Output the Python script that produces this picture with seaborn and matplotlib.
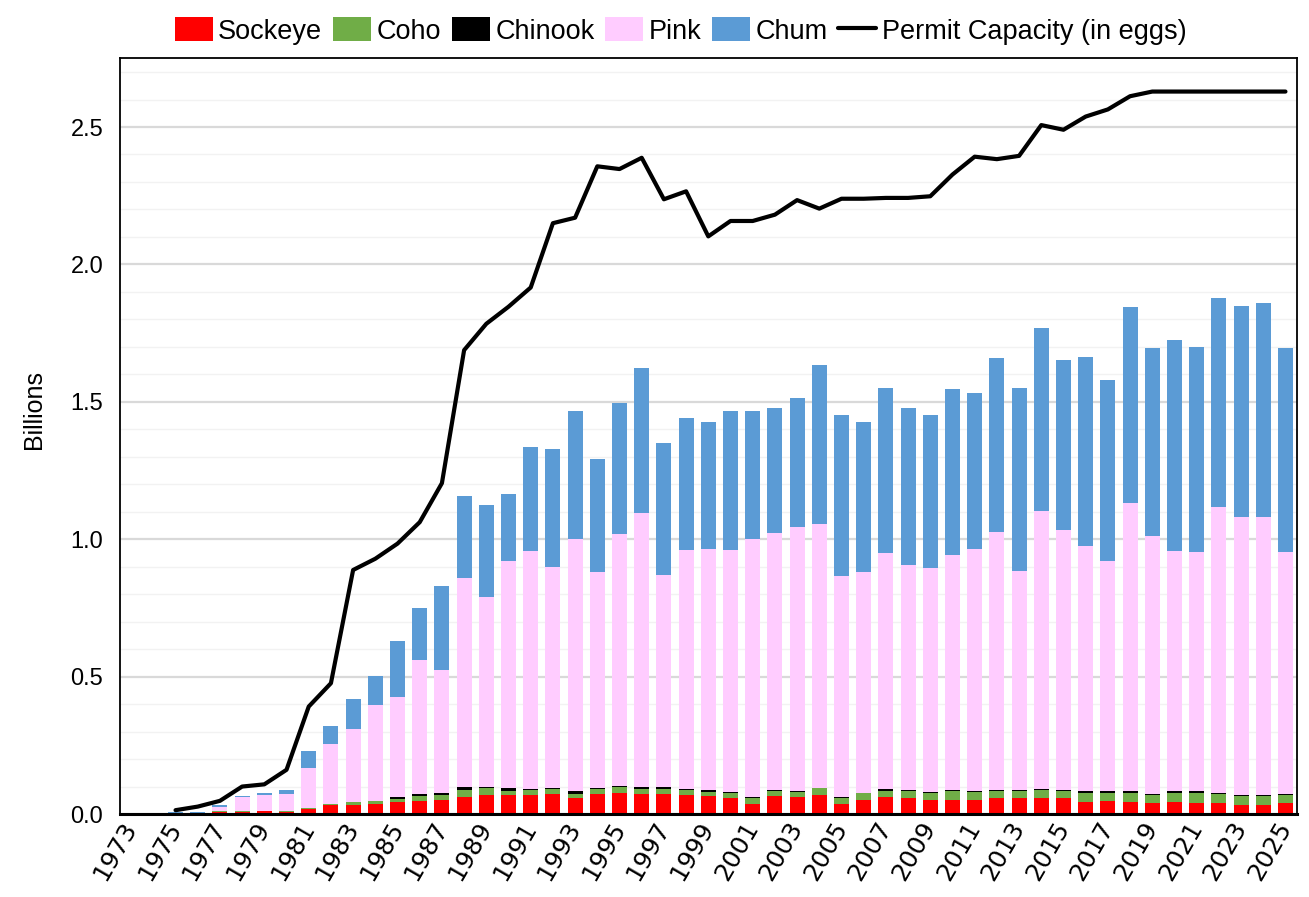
import numpy as np
import pandas as pd
import matplotlib
matplotlib.use("Agg")
import matplotlib.pyplot as plt
import seaborn as sns
from matplotlib.patches import Patch
from matplotlib.lines import Line2D

# hatchery releases by species (billions of fish) and permitted egg capacity
years = [str(y) for y in range(1973, 2026)]

sockeye = [0, 0, 0, 0, .009, .007, .011, .008, .018, .032, .032, .035, .044, .047, .052, .061,
           .071, .069, .069, .073, .057, .073, .078, .073, .073, .069, .065, .057, .035, .065,
           .061, .069, .035, .051, .061, .057, .052, .052, .052, .057, .057, .057, .057, .045,
           .049, .045, .040, .045, .040, .040, .033, .033, .040]
coho = [0, 0, 0, 0, .002, .003, .001, .003, .004, .004, .012, .012, .012, .017, .016, .028,
        .025, .016, .018, .017, .016, .017, .019, .019, .019, .017, .016, .020, .022, .020,
        .019, .026, .022, .024, .024, .025, .025, .030, .029, .025, .028, .030, .028, .032,
        .028, .032, .029, .032, .037, .033, .032, .032, .029]
chinook = [0, 0, 0, 0, 0, 0, 0, 0, 0, 0, 0, 0, .006, .009, .008, .009,
           .004, .009, .004, .005, .010, .005, .005, .006, .006, .005, .005, .004, .004, .001,
           .005, .001, .004, .001, .005, .005, .004, .005, .001, .005, .002, .005, .003, .005,
           .005, .005, .004, .005, .005, .004, .005, .005, .005]
pink = [0, 0, .002, .002, .016, .051, .057, .062, .144, .220, .267, .348, .364, .489, .448, .762,
        .688, .825, .865, .803, .916, .786, .916, .997, .773, .869, .877, .879, .938, .937,
        .961, .960, .806, .805, .860, .818, .815, .854, .881, .940, .797, 1.012, .947, .892,
        .837, 1.051, .937, .874, .871, 1.039, 1.012, 1.012, .879]
chum = [0, 0, .004, .004, .006, .005, .009, .013, .064, .063, .106, .108, .202, .188, .307, .297,
        .337, .247, .378, .431, .469, .410, .476, .528, .479, .482, .462, .508, .469, .454,
        .467, .579, .584, .544, .600, .572, .555, .606, .569, .633, .666, .663, .617, .690,
        .662, .711, .686, .770, .747, .761, .765, .779, .743]
capacity = [np.nan, np.nan, .014, .027, .048, .100, .108, .161, .391, .476, .888, .929, .984,
            1.062, 1.204, 1.688, 1.784, 1.846, 1.916, 2.150, 2.170, 2.357, 2.347, 2.388, 2.237,
            2.266, 2.102, 2.158, 2.158, 2.181, 2.234, 2.203, 2.239, 2.239, 2.242, 2.242, 2.248,
            2.327, 2.392, 2.383, 2.395, 2.507, 2.490, 2.538, 2.564, 2.612, 2.629, 2.629, 2.629,
            2.629, 2.629, 2.629, 2.629]

df = pd.DataFrame({"year": years, "Sockeye": sockeye, "Coho": coho, "Chinook": chinook,
                   "Pink": pink, "Chum": chum, "capacity": capacity})
species = ["Sockeye", "Coho", "Chinook", "Pink", "Chum"]
colors = {"Sockeye": "#FF0000", "Coho": "#70AD47", "Chinook": "#000000",
          "Pink": "#FFCCFF", "Chum": "#5B9BD5"}
cum = df[species].cumsum(axis=1)
for s in species:
    df["top_" + s] = cum[s]

sns.set_style("white")
plt.rcParams["font.family"] = ["Liberation Sans", "DejaVu Sans"]
plt.rcParams["text.color"] = "black"
plt.rcParams["xtick.color"] = "black"
plt.rcParams["ytick.color"] = "black"
plt.rcParams["axes.labelcolor"] = "black"

fig, ax = plt.subplots(figsize=(13.09, 8.97), dpi=100)
fig.subplots_adjust(left=0.0917, right=0.9905, bottom=0.0925, top=0.935)

# stacked bars: draw cumulative tops from largest to smallest
for s in species[::-1]:
    sns.barplot(data=df, x="year", y="top_" + s, color=colors[s], saturation=1,
                width=0.67, linewidth=0, errorbar=None, ax=ax, zorder=2)

sns.lineplot(x=np.arange(len(years)), y=df["capacity"], color="black", linewidth=3.0,
             ax=ax, zorder=3)

ax.set_xlim(-0.5, len(years) - 0.5)
ax.set_ylim(0, 2.75)
ax.set_yticks(np.arange(0, 2.51, 0.5))
ax.set_yticklabels([f"{v:.1f}" for v in np.arange(0, 2.51, 0.5)], fontsize=17)
ax.set_yticks(np.arange(0, 2.71, 0.1), minor=True)
ax.grid(axis="y", which="major", color="#d9d9d9", linewidth=1.6)
ax.grid(axis="y", which="minor", color="#f2f2f2", linewidth=1.0)
ax.set_axisbelow(True)

ax.set_xticks(np.arange(0, len(years), 2))
ax.set_xticklabels(years[::2], rotation=60, ha="right", va="center", rotation_mode="anchor",
                   fontsize=18, family="DejaVu Sans")
ax.tick_params(axis="both", length=0)
ax.tick_params(axis="x", pad=7)
ax.tick_params(axis="y", pad=12)
ax.set_xlabel("")
ax.set_ylabel("Billions", fontsize=18)
ax.yaxis.set_label_coords(-0.063, 0.535)

for side in ["left", "top", "right"]:
    ax.spines[side].set_color("black")
    ax.spines[side].set_linewidth(1.3)
ax.spines["bottom"].set_color("black")
ax.spines["bottom"].set_linewidth(2.2)

if ax.get_legend() is not None:
    ax.get_legend().remove()
handles = [Patch(facecolor=colors[s], edgecolor="none", label=s) for s in species]
handles.append(Line2D([], [], color="black", linewidth=3.0, label="Permit Capacity (in eggs)"))
fig.legend(handles=handles, loc="upper center", bbox_to_anchor=(0.52, 1.008), ncol=6,
           frameon=False, fontsize=19.5, handlelength=1.4, handleheight=1.0,
           handletextpad=0.2, columnspacing=0.4)

plt.savefig("out.png", dpi=100)
